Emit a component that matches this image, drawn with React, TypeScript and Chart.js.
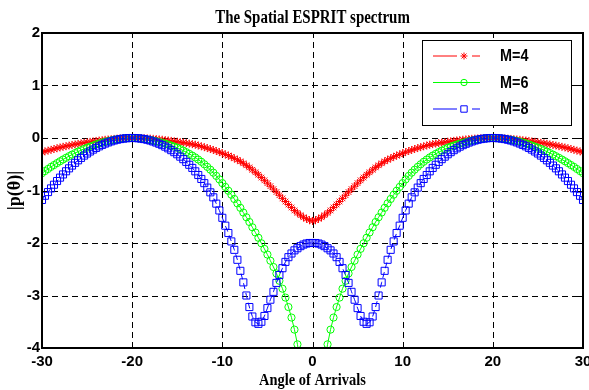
import React, { useEffect, useRef } from "react";
import { Chart, registerables } from "chart.js";

Chart.register(...registerables);

// ---------------- data ----------------
const angles = [
  -30,
  -29.67, -29.33, -29, -28.67, -28.33, -28, -27.67, -27.33, -27,
  -26.67, -26.33, -26, -25.67, -25.33, -25, -24.67, -24.33, -24,
  -23.67, -23.33, -23, -22.67, -22.33, -22, -21.67, -21.33, -21,
  -20.67, -20.33, -20, -19.67, -19.33, -19, -18.67, -18.33, -18,
  -17.67, -17.33, -17, -16.67, -16.33, -16, -15.67, -15.33, -15,
  -14.67, -14.33, -14, -13.67, -13.33, -13, -12.67, -12.33, -12,
  -11.67, -11.33, -11, -10.67, -10.33, -10, -9.67, -9.33, -9,
  -8.67, -8.33, -8, -7.67, -7.33, -7, -6.67, -6.33, -6,
  -5.67, -5.33, -5, -4.67, -4.33, -4, -3.67, -3.33, -3,
  -2.67, -2.33, -2, -1.67, -1.33, -1, -0.67, -0.33, 0,
  0.33, 0.67, 1, 1.33, 1.67, 2, 2.33, 2.67, 3,
  3.33, 3.67, 4, 4.33, 4.67, 5, 5.33, 5.67, 6,
  6.33, 6.67, 7, 7.33, 7.67, 8, 8.33, 8.67, 9,
  9.33, 9.67, 10, 10.33, 10.67, 11, 11.33, 11.67, 12,
  12.33, 12.67, 13, 13.33, 13.67, 14, 14.33, 14.67, 15,
  15.33, 15.67, 16, 16.33, 16.67, 17, 17.33, 17.67, 18,
  18.33, 18.67, 19, 19.33, 19.67, 20, 20.33, 20.67, 21,
  21.33, 21.67, 22, 22.33, 22.67, 23, 23.33, 23.67, 24,
  24.33, 24.67, 25, 25.33, 25.67, 26, 26.33, 26.67, 27,
  27.33, 27.67, 28, 28.33, 28.67, 29, 29.33, 29.67, 30,
];

const m4 = [
  -0.27, -0.255, -0.24, -0.225, -0.21, -0.195, -0.18, -0.168, -0.156, -0.144,
  -0.133, -0.122, -0.111, -0.101, -0.091, -0.082, -0.073, -0.064, -0.056, -0.048,
  -0.041, -0.034, -0.028, -0.022, -0.017, -0.012, -0.008, -0.005, -0.003, -0.001,
  0,
  0, -0.001, -0.003, -0.005, -0.008, -0.012, -0.016, -0.021, -0.027, -0.033,
  -0.04, -0.047, -0.055, -0.062, -0.07, -0.079, -0.088, -0.097, -0.107, -0.117,
  -0.128, -0.143, -0.159, -0.175, -0.192, -0.21, -0.228, -0.248, -0.269, -0.29,
  -0.313, -0.336, -0.36, -0.388, -0.416, -0.445, -0.482, -0.52, -0.56, -0.606,
  -0.653, -0.7, -0.753, -0.806, -0.86, -0.917, -0.973, -1.03, -1.09, -1.15,
  -1.21, -1.267, -1.323, -1.38, -1.427, -1.47, -1.51, -1.54, -1.565, -1.58,
  -1.565, -1.54, -1.51, -1.47, -1.427, -1.38, -1.323, -1.267, -1.21, -1.15,
  -1.09, -1.03, -0.973, -0.917, -0.86, -0.806, -0.753, -0.7, -0.653, -0.606,
  -0.56, -0.52, -0.482, -0.445, -0.416, -0.388, -0.36, -0.336, -0.313, -0.29,
  -0.269, -0.248, -0.228, -0.21, -0.192, -0.175, -0.159, -0.143, -0.128, -0.117,
  -0.107, -0.097, -0.088, -0.079, -0.07, -0.062, -0.055, -0.047, -0.04, -0.033,
  -0.027, -0.021, -0.016, -0.012, -0.008, -0.005, -0.003, -0.001, 0, 0,
  -0.001, -0.003, -0.005, -0.008, -0.012, -0.017, -0.022, -0.028, -0.034, -0.041,
  -0.048, -0.056, -0.064, -0.073, -0.082, -0.091, -0.101, -0.111, -0.122, -0.133,
  -0.144, -0.156, -0.168, -0.18, -0.195, -0.21, -0.225, -0.24, -0.255, -0.27,
];

const m6 = [
  -0.67, -0.63, -0.59, -0.55, -0.515, -0.478, -0.443, -0.41, -0.377, -0.346,
  -0.316, -0.287, -0.259, -0.233, -0.208, -0.186, -0.163, -0.142, -0.122, -0.104,
  -0.087, -0.072, -0.058, -0.045, -0.034, -0.024, -0.016, -0.01, -0.005, -0.001,
  0,
  -0.001, -0.005, -0.011, -0.019, -0.028, -0.038, -0.05, -0.063, -0.077, -0.092,
  -0.108, -0.125, -0.143, -0.163, -0.185, -0.212, -0.24, -0.27, -0.302, -0.335,
  -0.37, -0.41, -0.453, -0.5, -0.55, -0.603, -0.66, -0.722, -0.788, -0.86,
  -0.932, -1.005, -1.08, -1.162, -1.245, -1.33, -1.42, -1.51, -1.6, -1.7,
  -1.8, -1.9, -2.005, -2.112, -2.22, -2.337, -2.457, -2.58, -2.72, -2.87,
  -3.04, -3.22, -3.42, -3.65, -3.93, -4.3, -4.8, -5.4, -6.0, -6.3,
  -6.0, -5.4, -4.8, -4.3, -3.93, -3.65, -3.42, -3.22, -3.04, -2.87,
  -2.72, -2.58, -2.457, -2.337, -2.22, -2.112, -2.005, -1.9, -1.8, -1.7,
  -1.6, -1.51, -1.42, -1.33, -1.245, -1.162, -1.08, -1.005, -0.932, -0.86,
  -0.788, -0.722, -0.66, -0.603, -0.55, -0.5, -0.453, -0.41, -0.37, -0.335,
  -0.302, -0.27, -0.24, -0.212, -0.185, -0.163, -0.143, -0.125, -0.108, -0.092,
  -0.077, -0.063, -0.05, -0.038, -0.028, -0.019, -0.011, -0.005, -0.001, 0,
  -0.001, -0.005, -0.01, -0.016, -0.024, -0.034, -0.045, -0.058, -0.072, -0.087,
  -0.104, -0.122, -0.142, -0.163, -0.186, -0.208, -0.233, -0.259, -0.287, -0.316,
  -0.346, -0.377, -0.41, -0.443, -0.478, -0.515, -0.55, -0.59, -0.63, -0.67,
];

const m8 = [
  -1.18, -1.1, -1.03, -0.96, -0.89, -0.82, -0.755, -0.694, -0.634, -0.578,
  -0.525, -0.473, -0.425, -0.379, -0.335, -0.295, -0.257, -0.221, -0.189, -0.159,
  -0.131, -0.106, -0.084, -0.064, -0.047, -0.033, -0.021, -0.012, -0.005, -0.001,
  0,
  -0.001, -0.005, -0.012, -0.021, -0.033, -0.048, -0.066, -0.087, -0.11, -0.136,
  -0.165, -0.197, -0.232, -0.27, -0.31, -0.355, -0.403, -0.455, -0.51, -0.57,
  -0.635, -0.705, -0.78, -0.86, -0.945, -1.035, -1.13, -1.25, -1.38, -1.52,
  -1.67, -1.81, -1.97, -2.13, -2.32, -2.53, -2.75, -3.0, -3.22, -3.4,
  -3.51, -3.54, -3.5, -3.39, -3.24, -3.08, -2.93, -2.76, -2.61, -2.48,
  -2.36, -2.27, -2.2, -2.14, -2.1, -2.06, -2.03, -2.01, -2.0, -2.0,
  -2.0, -2.01, -2.03, -2.06, -2.1, -2.14, -2.2, -2.27, -2.36, -2.48,
  -2.61, -2.76, -2.93, -3.08, -3.24, -3.39, -3.5, -3.54, -3.51, -3.4,
  -3.22, -3.0, -2.75, -2.53, -2.32, -2.13, -1.97, -1.81, -1.67, -1.52,
  -1.38, -1.25, -1.13, -1.035, -0.945, -0.86, -0.78, -0.705, -0.635, -0.57,
  -0.51, -0.455, -0.403, -0.355, -0.31, -0.27, -0.232, -0.197, -0.165, -0.136,
  -0.11, -0.087, -0.066, -0.048, -0.033, -0.021, -0.012, -0.005, -0.001, 0,
  -0.001, -0.005, -0.012, -0.021, -0.033, -0.047, -0.064, -0.084, -0.106, -0.131,
  -0.159, -0.189, -0.221, -0.257, -0.295, -0.335, -0.379, -0.425, -0.473, -0.525,
  -0.578, -0.634, -0.694, -0.755, -0.82, -0.89, -0.96, -1.03, -1.1, -1.18,
];

const xTicks = [-30, -20, -10, 0, 10, 20, 30];
const yTicks = [-4, -3, -2, -1, 0, 1, 2];
const seriesNames = ["M=4", "M=6", "M=8"];
const seriesColors = ["#ff0000", "#00ff00", "#0000ff"];
const seriesStyles = ["star", "circle", "rect"];
const seriesDashed = [true, false, true];
const titleText = "The Spatial ESPRIT spectrum";
const xTitleText = "Angle of Arrivals";
const yTitleText = "|p(\u03b8)|";

// ---------------- drawing helpers ----------------
function drawMarker(ctx: CanvasRenderingContext2D, style: string, x: number, y: number, color: string) {
  ctx.save();
  ctx.strokeStyle = color;
  ctx.lineWidth = 1;
  ctx.setLineDash([]);
  ctx.beginPath();
  if (style === "star") {
    const r = 3.5;
    for (let k = 0; k < 4; k++) {
      const a = (k * Math.PI) / 4;
      ctx.moveTo(x - r * Math.cos(a), y - r * Math.sin(a));
      ctx.lineTo(x + r * Math.cos(a), y + r * Math.sin(a));
    }
  } else if (style === "circle") {
    ctx.arc(x, y, 3.2, 0, Math.PI * 2);
  } else {
    ctx.rect(x - 3.2, y - 3.2, 6.4, 6.4);
  }
  ctx.stroke();
  ctx.restore();
}

const decorPlugin = {
  id: "decor",
  beforeDatasetsDraw(chart: any) {
    const { ctx, chartArea: a, scales } = chart;
    ctx.save();
    ctx.strokeStyle = "#000";
    ctx.lineWidth = 1;
    ctx.setLineDash([6, 4]);
    for (const v of xTicks) {
      const px = Math.round(scales.x.getPixelForValue(v)) + 0.5;
      ctx.beginPath();
      ctx.moveTo(px, a.bottom);
      ctx.lineTo(px, a.top);
      ctx.stroke();
    }
    for (const v of yTicks) {
      const py = Math.round(scales.y.getPixelForValue(v)) + 0.5;
      ctx.beginPath();
      ctx.moveTo(a.left, py);
      ctx.lineTo(a.right, py);
      ctx.stroke();
    }
    ctx.restore();
  },
  afterDatasetsDraw(chart: any) {
    const { ctx, chartArea: a, scales } = chart;
    ctx.save();
    // axes box
    ctx.setLineDash([]);
    ctx.strokeStyle = "#000";
    ctx.lineWidth = 2;
    ctx.strokeRect(a.left, a.top, a.right - a.left, a.bottom - a.top);
    // inward tick marks
    ctx.lineWidth = 1;
    ctx.beginPath();
    for (const v of xTicks) {
      const px = Math.round(scales.x.getPixelForValue(v)) + 0.5;
      ctx.moveTo(px, a.bottom);
      ctx.lineTo(px, a.bottom - 5);
      ctx.moveTo(px, a.top);
      ctx.lineTo(px, a.top + 5);
    }
    for (const v of yTicks) {
      const py = Math.round(scales.y.getPixelForValue(v)) + 0.5;
      ctx.moveTo(a.left, py);
      ctx.lineTo(a.left + 5, py);
      ctx.moveTo(a.right, py);
      ctx.lineTo(a.right - 5, py);
    }
    ctx.stroke();

    // legend
    const lx = 422.5, ly = 40.5, lw = 149, lh = 85;
    ctx.fillStyle = "#fff";
    ctx.fillRect(lx, ly, lw, lh);
    ctx.strokeStyle = "#000";
    ctx.lineWidth = 1;
    ctx.strokeRect(lx, ly, lw, lh);
    const rowY = [56, 82.5, 109];
    for (let i = 0; i < seriesNames.length; i++) {
      const y = rowY[i];
      const col = seriesColors[i];
      ctx.strokeStyle = col;
      ctx.lineWidth = 1;
      ctx.beginPath();
      if (seriesDashed[i]) {
        ctx.moveTo(433, y);
        ctx.lineTo(457, y);
        ctx.moveTo(472, y);
        ctx.lineTo(480, y);
      } else {
        ctx.moveTo(433, y);
        ctx.lineTo(480, y);
      }
      ctx.stroke();
      drawMarker(ctx, seriesStyles[i], 464, y, col);
      ctx.save();
      ctx.fillStyle = "#000";
      ctx.font = 'bold 16px Arial, "Liberation Sans", sans-serif';
      ctx.textAlign = "left";
      ctx.textBaseline = "middle";
      ctx.translate(500, y + 1);
      ctx.scale(0.9, 1);
      ctx.fillText(seriesNames[i], 0, 0);
      ctx.restore();
    }
    ctx.restore();
  },
  afterDraw(chart: any) {
    const { ctx, chartArea: a } = chart;
    const cx = (a.left + a.right) / 2;
    ctx.save();
    ctx.fillStyle = "#000";
    ctx.font = 'bold 18px "Liberation Serif", "Times New Roman", serif';
    ctx.textAlign = "center";
    ctx.textBaseline = "alphabetic";
    ctx.save();
    ctx.translate(cx, 23);
    ctx.scale(0.83, 1);
    ctx.fillText(titleText, 0, 0);
    ctx.restore();

    ctx.font = 'bold 17px "Liberation Serif", "Times New Roman", serif';
    ctx.save();
    ctx.translate(cx, 385);
    ctx.scale(0.85, 1);
    ctx.fillText(xTitleText, 0, 0);
    ctx.restore();

    ctx.font = 'bold 19px "Liberation Serif", "Times New Roman", serif';
    ctx.save();
    ctx.textBaseline = "middle";
    ctx.translate(15, (a.top + a.bottom) / 2);
    ctx.rotate(-Math.PI / 2);
    ctx.scale(0.95, 1);
    ctx.fillText(yTitleText, 0, 0);
    ctx.restore();
    ctx.restore();
  },
};

export default function App() {
  const canvasRef = useRef<HTMLCanvasElement | null>(null);

  useEffect(() => {
    const canvas = canvasRef.current;
    if (!canvas) return;
    const series = [m4, m6, m8];
    const radii = [4, 3.6, 5];
    const datasets = series.map((ys, i) => ({
      label: seriesNames[i],
      data: angles.map((x, k) => ({ x, y: ys[k] })),
      borderColor: seriesColors[i],
      borderWidth: 1,
      borderDash: seriesDashed[i] ? [6, 4] : [],
      pointStyle: seriesStyles[i],
      pointRadius: radii[i],
      pointBorderWidth: 1,
      pointBorderColor: seriesColors[i],
      pointBackgroundColor: "rgba(0,0,0,0)",
      fill: false,
      tension: 0,
      order: 3 - i,
    }));

    const tickFont = { family: 'Arial, "Liberation Sans", sans-serif', size: 15, weight: "bold" as const };

    const chart = new Chart(canvas, {
      type: "line",
      data: { datasets },
      options: {
        responsive: false,
        animation: false,
        devicePixelRatio: 1,
        events: [],
        layout: { padding: { top: 33, right: 6, left: 0, bottom: 0 } },
        plugins: {
          legend: { display: false },
          title: { display: false },
          tooltip: { enabled: false },
        },
        scales: {
          x: {
            type: "linear",
            min: -30,
            max: 30,
            afterBuildTicks: (s: any) => {
              s.ticks = xTicks.map((v) => ({ value: v }));
            },
            afterFit: (s: any) => {
              s.height = 42;
              s.paddingLeft = 0;
              s.paddingRight = 0;
            },
            grid: { display: false, drawTicks: false },
            border: { display: false },
            ticks: { color: "#000", font: tickFont, padding: 5, maxRotation: 0, autoSkip: false },
          },
          y: {
            type: "linear",
            min: -4,
            max: 2,
            afterBuildTicks: (s: any) => {
              s.ticks = yTicks.map((v) => ({ value: v }));
            },
            afterFit: (s: any) => {
              s.width = 42;
              s.paddingTop = 0;
              s.paddingBottom = 0;
            },
            grid: { display: false, drawTicks: false },
            border: { display: false },
            ticks: { color: "#000", font: tickFont, padding: 2, autoSkip: false },
          },
        },
      },
      plugins: [decorPlugin],
    });
    return () => chart.destroy();
  }, []);

  return (
    <div style={{ position: "fixed", left: 0, top: 0, width: 589, height: 390, background: "#fff" }}>
      <canvas ref={canvasRef} width={589} height={390} style={{ display: "block" }} />
    </div>
  );
}
